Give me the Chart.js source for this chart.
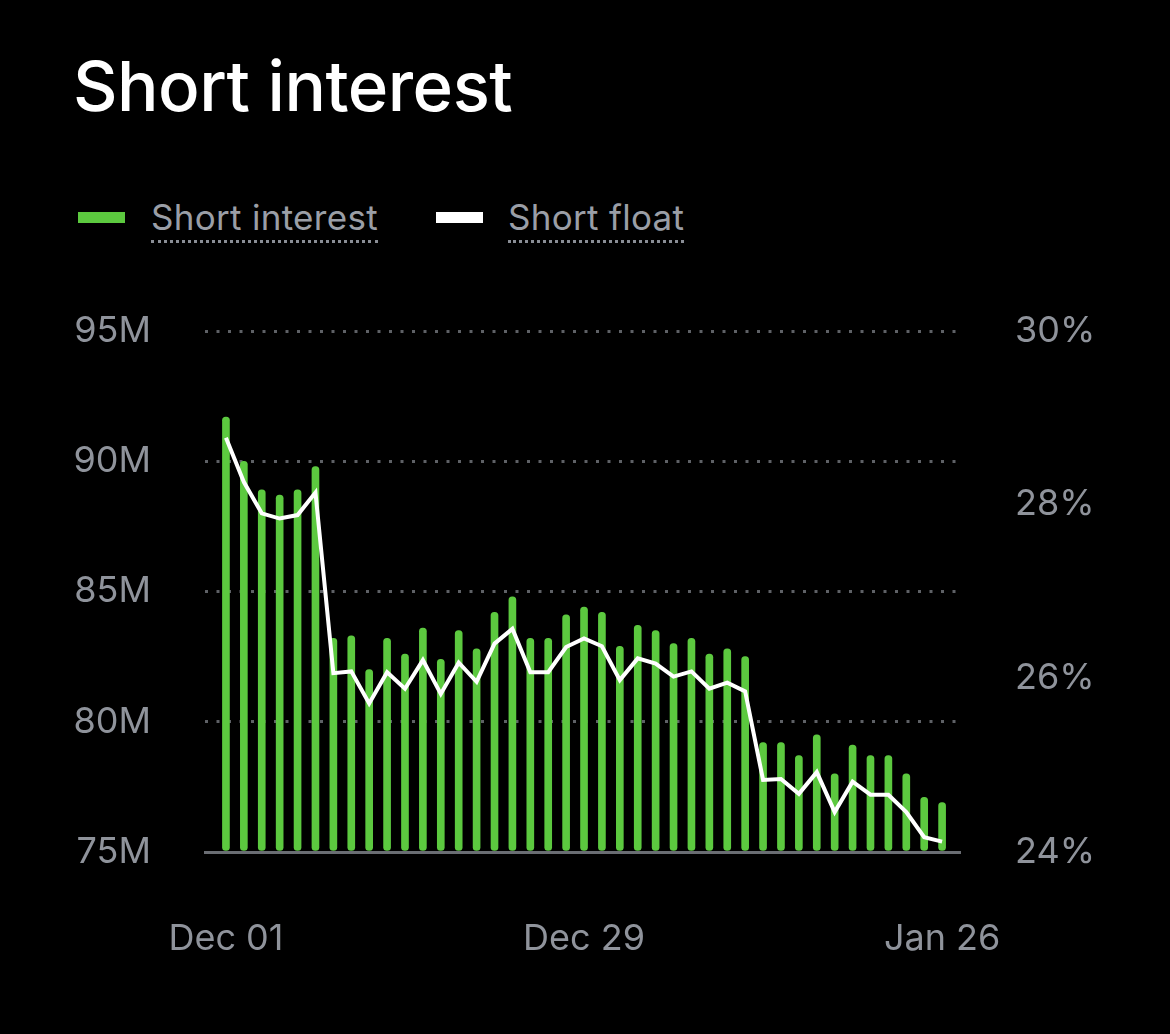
<!DOCTYPE html>
<html><head><meta charset="utf-8">
<script src="https://cdn.jsdelivr.net/npm/chart.js@4"></script>
<style>
html,body{margin:0;padding:0;background:#000;width:1170px;height:1034px;overflow:hidden;font-family:Inter,"Open Sans",sans-serif;}
#title{position:absolute;left:73px;top:44px;color:#fff;font-size:69px;font-weight:500;letter-spacing:-0.5px;line-height:84px;}
.leg{position:absolute;top:196px;color:#9a9ea6;font-size:35px;letter-spacing:0.3px;border-bottom:3px dotted #8a8e96;padding-bottom:2px;line-height:42px;}
.sw{position:absolute;top:212px;width:47px;height:11px;}
#wrap{position:absolute;left:0;top:0;width:1170px;height:1034px;}
</style></head><body>
<div id="title">Short interest</div>
<div class="sw" style="left:78px;background:#5cc93f"></div>
<div class="leg" style="left:151px">Short interest</div>
<div class="sw" style="left:436px;background:#fff"></div>
<div class="leg" style="left:508px">Short float</div>
<div id="wrap"><canvas id="c" width="1170" height="1034"></canvas></div>
<script>
const dates = ["Dec 01","Dec 02","Dec 03","Dec 04","Dec 05","Dec 08","Dec 09","Dec 10","Dec 11","Dec 12","Dec 15","Dec 16","Dec 17","Dec 18","Dec 19","Dec 22","Dec 23","Dec 24","Dec 25","Dec 26","Dec 29","Dec 30","Dec 31","Jan 01","Jan 02","Jan 05","Jan 06","Jan 07","Jan 08","Jan 09","Jan 12","Jan 13","Jan 14","Jan 15","Jan 16","Jan 19","Jan 20","Jan 21","Jan 22","Jan 23","Jan 26"];
const shortInterest = [91.7,90.0,88.9,88.7,88.9,89.8,83.2,83.3,82.0,83.2,82.6,83.6,82.4,83.5,82.8,84.2,84.8,83.2,83.2,84.1,84.4,84.2,82.9,83.7,83.5,83.0,83.2,82.6,82.8,82.5,79.2,79.2,78.7,79.5,78.0,79.1,78.7,78.7,78.0,77.1,76.9];
const shortFloat = [28.77,28.26,27.90,27.84,27.88,28.14,26.06,26.08,25.71,26.07,25.88,26.21,25.82,26.18,25.96,26.40,26.57,26.07,26.07,26.36,26.46,26.37,25.98,26.23,26.17,26.02,26.08,25.88,25.95,25.85,24.83,24.84,24.67,24.92,24.46,24.81,24.66,24.66,24.46,24.17,24.12];
const xTickLabels = ["Dec 01","Dec 29","Jan 26"];
const leftTicks = [75,80,85,90,95];
const rightTicks = [24,26,28,30];

const tickFont = {family:"Inter, 'Open Sans', sans-serif", size:36};
const tickColor = '#8f939b';
new Chart(document.getElementById('c'), {
  data: {
    datasets: [
      {type:'line', data: shortFloat.map((v,i)=>({x:i,y:v})), yAxisID:'y1', borderColor:'#fff', borderWidth:4, pointRadius:0, tension:0, order:0},
      {type:'bar', data: shortInterest.map((v,i)=>({x:i,y:v})), yAxisID:'y', backgroundColor:'#5cc93f', barThickness:7, borderRadius:4, borderSkipped:false, base:75, order:1}
    ]
  },
  options: {
    responsive:false, animation:false,
    layout:{padding:{top:331,left:0,right:0,bottom:0}},
    plugins:{legend:{display:false}, tooltip:{enabled:false}},
    scales:{
      x:{type:'linear', min:-1.17, max:41.0, offset:false,
        afterFit:s=>{s.height=182;},
        afterBuildTicks:s=>{s.ticks = xTickLabels.map(l=>({value:dates.indexOf(l)}));},
        ticks:{callback:v=>dates[v]||'', color:tickColor, font:tickFont, padding:66, maxRotation:0, autoSkip:false},
        grid:{display:false, drawTicks:false, offset:false},
        border:{display:true, color:'#6a6d73', width:3}
      },
      y:{position:'left', min:75, max:95,
        afterFit:s=>{s.width=205;},
        afterBuildTicks:s=>{s.ticks = leftTicks.map(v=>({value:v}));},
        ticks:{callback:v=>v+'M', color:tickColor, font:tickFont, padding:54},
        grid:{drawTicks:false, lineWidth:3, color:c=>c.tick && c.tick.value===75?'rgba(0,0,0,0)':'#5e6166'},
        border:{display:false, dash:[3,8.5]}
      },
      y1:{position:'right', min:24, max:30,
        afterFit:s=>{s.width=210;},
        afterBuildTicks:s=>{s.ticks = rightTicks.map(v=>({value:v}));},
        ticks:{callback:v=>v+'%', color:tickColor, font:tickFont, padding:55},
        grid:{display:false, drawTicks:false},
        border:{display:false}
      }
    }
  }
});
</script>
</body></html>
